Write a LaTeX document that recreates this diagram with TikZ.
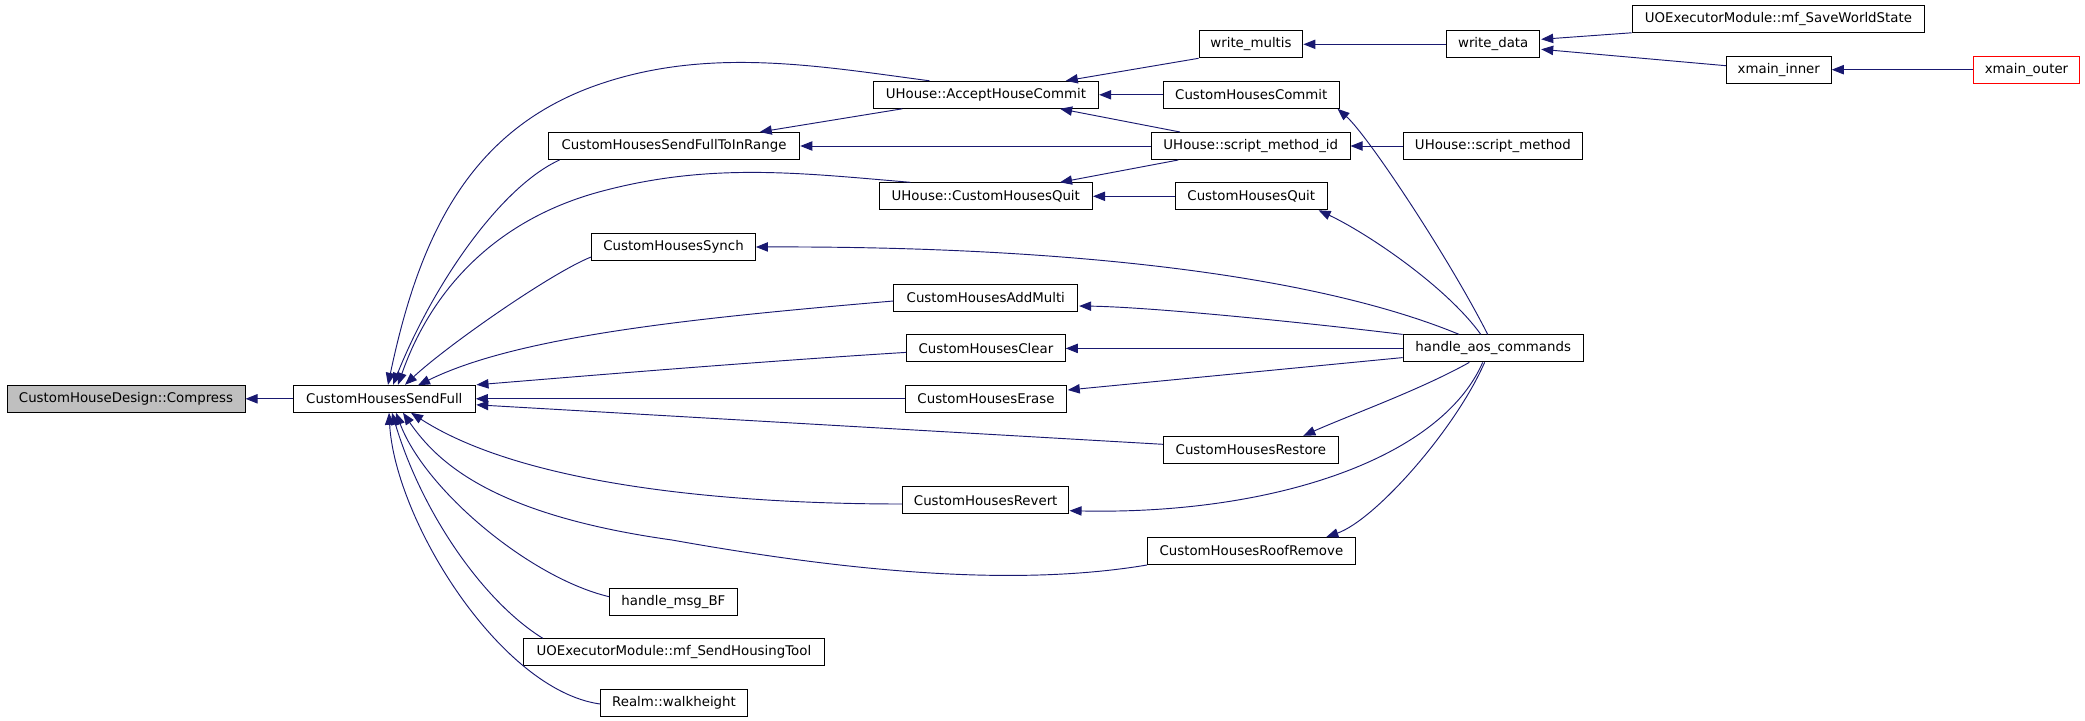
\documentclass[tikz,border=0pt]{standalone}
\usepackage{fontspec}
\setmainfont{DejaVu Sans}
\usetikzlibrary{arrows.meta}
\definecolor{edgeblue}{RGB}{25,25,112}
\definecolor{rootgray}{RGB}{191,191,191}
\newdimen\pxu \pxu=0.75pt
\tikzset{
  fn/.style={draw=black, line width=0.75pt, minimum height=27\pxu, inner sep=0pt,
    font=\fontsize{10pt}{12pt}\selectfont, text=black, anchor=center},
  rootfn/.style={fn, fill=rootgray},
  redfn/.style={fn, draw=red},
  e/.style={draw=edgeblue, line width=0.7pt, {Triangle[length=9pt,width=7pt]}-},
}
\begin{document}
\begin{tikzpicture}[x=0.75pt,y=-0.75pt]
\fill[white] (0,0) rectangle (2085,721);
\useasboundingbox (0,0) rectangle (2085,721);

% nodes
\node[rootfn, minimum width=238\pxu] (comp) at (126,398.8) {CustomHouseDesign::Compress};
\node[fn, minimum width=182\pxu] (sf) at (384.3,398.8) {CustomHousesSendFull};
\node[fn, minimum width=225.4\pxu] (acc) at (985.9,94.8) {UHouse::AcceptHouseCommit};
\node[fn, minimum width=251.5\pxu] (inr) at (674,146) {CustomHousesSendFullToInRange};
\node[fn, minimum width=213.5\pxu] (uhq) at (985.8,196.3) {UHouse::CustomHousesQuit};
\node[fn, minimum width=163.8\pxu] (syn) at (673.5,247) {CustomHousesSynch};
\node[fn, minimum width=183.7\pxu] (add) at (985.8,297.8) {CustomHousesAddMulti};
\node[fn, minimum width=158.8\pxu] (clr) at (985.9,348.4) {CustomHousesClear};
\node[fn, minimum width=161.1\pxu] (ers) at (986,398.8) {CustomHousesErase};
\node[fn, minimum width=175.2\pxu] (rst) at (1250.9,449.8) {CustomHousesRestore};
\node[fn, minimum width=166.5\pxu] (rev) at (985.7,500.3) {CustomHousesRevert};
\node[fn, minimum width=207.8\pxu] (roof) at (1251.4,551) {CustomHousesRoofRemove};
\node[fn, minimum width=127.5\pxu] (bf) at (673.4,601.8) {handle\_msg\_BF};
\node[fn, minimum width=300.8\pxu] (sht) at (673.9,652.3) {UOExecutorModule::mf\_SendHousingTool};
\node[fn, minimum width=146.9\pxu] (wh) at (674,702.8) {Realm::walkheight};
\node[fn, minimum width=292.8\pxu] (sws) at (1778.4,18.8) {UOExecutorModule::mf\_SaveWorldState};
\node[fn, minimum width=103.7\pxu] (wm) at (1251,44.3) {write\_multis};
\node[fn, minimum width=93\pxu] (wd) at (1493.2,44.3) {write\_data};
\node[fn, minimum width=105\pxu] (xi) at (1778.8,69.7) {xmain\_inner};
\node[redfn, minimum width=106.8\pxu] (xo) at (2026.5,69.7) {xmain\_outer};
\node[fn, minimum width=176\pxu] (cmt) at (1251.3,94.8) {CustomHousesCommit};
\node[fn, minimum width=198.5\pxu] (smi) at (1250.8,146) {UHouse::script\_method\_id};
\node[fn, minimum width=179\pxu] (sm) at (1492.9,146) {UHouse::script\_method};
\node[fn, minimum width=152\pxu] (chq) at (1251.3,196.3) {CustomHousesQuit};
\node[fn, minimum width=180.3\pxu] (aos) at (1493.2,348.4) {handle\_aos\_commands};

% edges into CustomHouseDesign::Compress
\draw[e] (comp.east) -- (sf.west);

% edges into CustomHousesSendFull (top)
\draw[e] ([shift={(3.7,0)}]sf.north) .. controls (419.5,235) and (470,128.2) .. (600,84)
  .. controls (710,46.6) and (819.5,66.2) .. ([shift={(-56.4,0)}]acc.north);
\draw[e] ([shift={(8.7,0)}]sf.north) .. controls (433,285) and (500,187.2) .. ([shift={(11.75,0)}]inr.south west);
\draw[e] ([shift={(13.7,0)}]sf.north) .. controls (433,285) and (500,218.7) .. (600,191.7)
  .. controls (710,162) and (800.4,173.1) .. ([shift={(-75.4,0)}]uhq.north);
\draw[e] ([shift={(20.7,0)}]sf.north) .. controls (447.8,345) and (551.7,272.6) .. ([shift={(0,10)}]syn.west);
\draw[e] ([shift={(33.7,0.5)}]sf.north) .. controls (518,336) and (693.9,318) .. ([shift={(0,3.2)}]add.west);
% right side
\draw[e] ([shift={(0.7,-14)}]sf.east) .. controls (560,378) and (750,362) .. ([shift={(0,4)}]clr.west);
\draw[e] (sf.east) -- (ers.west);
\draw[e] ([shift={(0.5,6)}]sf.east) -- ([shift={(0,-5.5)}]rst.west);
% bottom
\draw[e] ([shift={(26.7,0)}]sf.south) .. controls (531,490) and (752.4,504) .. ([shift={(0,3.7)}]rev.west);
\draw[e] ([shift={(18.7,0)}]sf.south) .. controls (437.2,462.2) and (492,514.8) .. (672,540)
  .. controls (840,570) and (1010,588) .. (roof.south west);
\draw[e] ([shift={(11.7,0)}]sf.south) .. controls (425,490) and (530,578) .. ([shift={(0,-5.1)}]bf.west);
\draw[e] ([shift={(7.7,0)}]sf.south) .. controls (422,513) and (483.3,601.5) .. ([shift={(19.8,0)}]sht.north west);
\draw[e] ([shift={(4.7,0)}]sf.south) .. controls (395,520) and (500,690) .. ([shift={(0,1.2)}]wh.west);

% edges into UHouse::AcceptHouseCommit
\draw[e] ([shift={(-33.3,0)}]acc.north east) -- (wm.south west);
\draw[e] (acc.east) -- (cmt.west);
\draw[e] ([shift={(-39,0)}]acc.south east) -- ([shift={(-70.8,0)}]smi.north);

% edges into CustomHousesSendFullToInRange
\draw[e] (inr.east) -- (smi.west);
\draw[e] ([shift={(-40.5,0)}]inr.north east) -- ([shift={(29.5,0)}]acc.south west);

% edges into UHouse::CustomHousesQuit
\draw[e] ([shift={(-33,0)}]uhq.north east) -- ([shift={(-72.5,0)}]smi.south);
\draw[e] (uhq.east) -- (chq.west);

% right part
\draw[e] (wm.east) -- (wd.west);
\draw[e] ([shift={(1,-5)}]wd.east) -- (sws.south west);
\draw[e] ([shift={(1,5)}]wd.east) -- ([shift={(0,-4)}]xi.west);
\draw[e] (xi.east) -- (xo.west);
\draw[e] (smi.east) -- (sm.west);

% edges from handle_aos_commands
\draw[e] ([shift={(-2.3,0)}]cmt.south east) .. controls (1367,134.5) and (1447.7,255.7) .. ([shift={(-5.5,0)}]aos.north);
\draw[e] ([shift={(-9.2,0)}]chq.south east) .. controls (1365,232) and (1445,285) .. ([shift={(-12.4,0)}]aos.north);
\draw[e] (syn.east) .. controls (1055.4,246) and (1309.7,272.7) .. ([shift={(56.6,0)}]aos.north west);
\draw[e] ([shift={(1,8.2)}]add.east) .. controls (1150,307) and (1300,322) .. (aos.north west);
\draw[e] (clr.east) -- (aos.west);
\draw[e] ([shift={(0.7,-8.8)}]ers.east) -- ([shift={(0,9.2)}]aos.west);
\draw[e] ([shift={(-35.7,0)}]rst.north east) .. controls (1350,415) and (1420,390) .. ([shift={(-23.9,0)}]aos.south);
\draw[e] ([shift={(0.1,10.4)}]rev.east) .. controls (1270,515) and (1440,460) .. ([shift={(-10.5,0)}]aos.south);
\draw[e] ([shift={(-29.5,0)}]roof.north east) .. controls (1375,520) and (1455,430) .. ([shift={(-8.6,0)}]aos.south);
\end{tikzpicture}
\end{document}
